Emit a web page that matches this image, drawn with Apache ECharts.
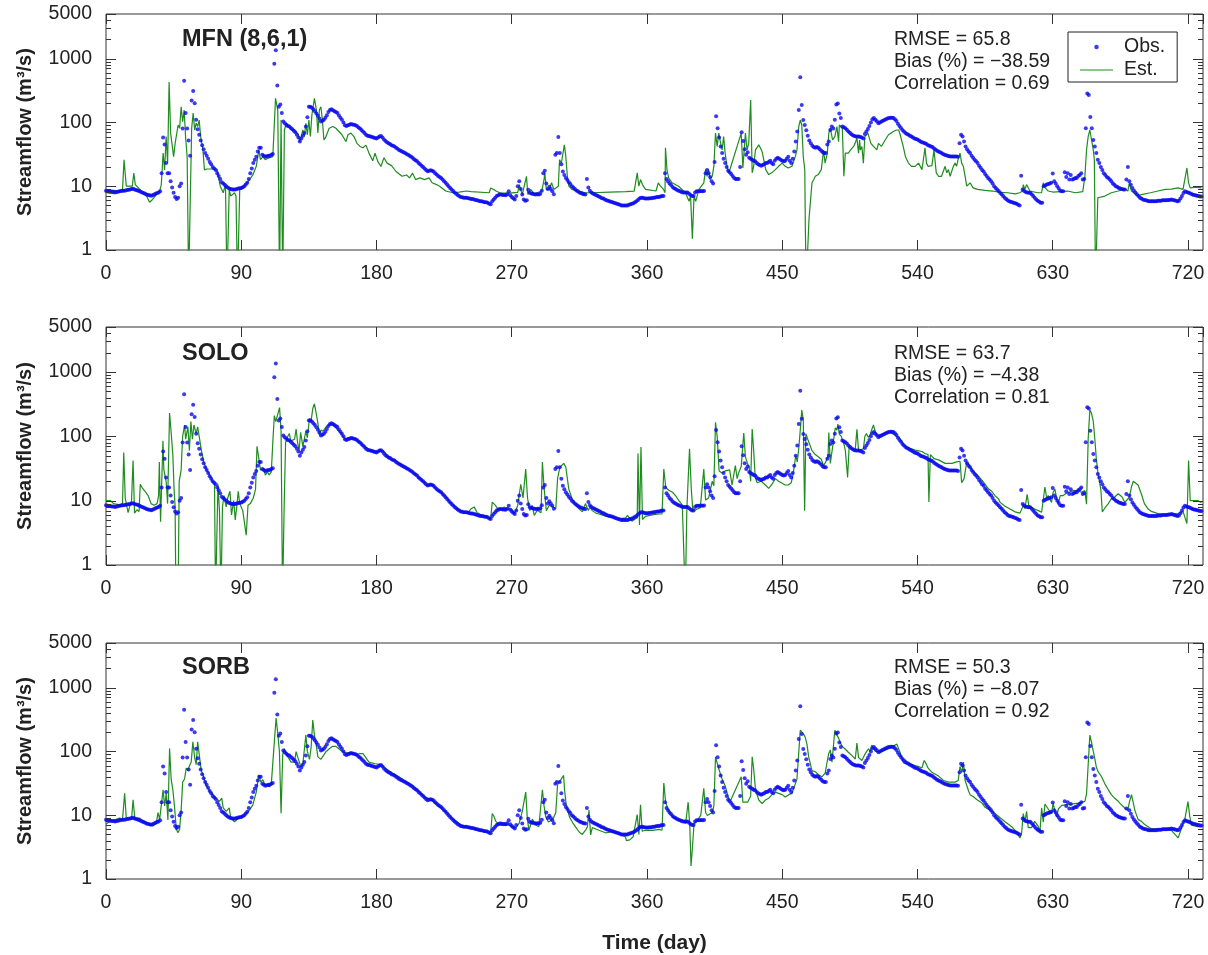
<!DOCTYPE html>
<html><head><meta charset="utf-8">
<script src="https://cdn.jsdelivr.net/npm/echarts@6/dist/echarts.min.js"></script>
<style>html,body{margin:0;padding:0;background:#fff}#c{width:1208px;height:955px}</style>
</head><body><div id="c"></div>
<script>
// Observed daily streamflow (m3/s), day 0..729, 10 values per row
const obs = [
8.5,8.3,8.2,8.2,8.1,8.1,8.0,8.1,8.2,8.3,
8.4,8.5,8.5,8.6,8.7,8.8,8.9,9.0,9.1,8.9,
8.7,8.6,8.4,8.2,8.0,7.8,7.6,7.4,7.3,7.2,
7.1,7.2,7.4,7.6,7.8,8.0,8.3,16,58,45,
23,16,16,12,9.5,7.9,6.8,6.3,6.6,10,
11,80,450,140,80,52,30,220,310,200,
110,78,64,52,44,38,33,30,27,24,
22,20,19,18,16,14.5,13,11.5,11,10.5,
10,9.5,9.2,9,8.9,8.9,8.9,9.0,9.2,9.3,
9.4,9.6,10,10.6,11.3,13,16,19,23,26,
29,35,40,40,31,30,29,29.5,30,30,
31,32,830,1350,380,176,190,140,103,97,
92,88,86,82,78,74,70,64,58,50,
56,62,68,86,120,176,176,170,160,150,
138,127,115,103,106,110,118,130,145,156,
160,155,150,145,140,128,118,110,100,90,
88,90,92,94,93,92,90,88,83,80,
76,72,68,64,62,61,60,59,58,57,
56,58,60,61,58,54,51,49,47,46,
44,43,42,40,38.5,37,36,35,34,33,
32,31,30,29,28,26.5,25.5,24.5,23,22,
21,20,19,18,17.2,17.5,17.8,17.5,17,16,
15.2,14.5,14,13.5,12.7,12,11.3,10.6,10,9.4,
8.9,8.4,8,7.6,7.3,7,6.8,6.7,6.6,6.6,
6.6,6.5,6.4,6.3,6.3,6.2,6.1,6.0,5.9,5.8,
5.8,5.7,5.6,5.6,5.5,5.3,5.2,5.8,6.2,6.6,
7.0,7.2,7.4,7.4,7.3,7.3,7.2,7.5,8.3,7.2,
6.8,6.5,6.2,7.0,10,12,9,7.4,6.2,5.9,
6.0,8.8,7.9,7.7,7.6,7.5,7.4,7.5,7.4,7.6,
8.5,16,17.5,11,9,9.8,9,8.3,7.5,31,
33,59,33,22,17,15,13.5,12.5,11.5,10.8,
10,9.5,9,8.6,8.3,8,7.8,7.6,7.5,7.4,
13,9.5,8.5,8,7.7,7.5,7.3,7.1,6.9,6.7,
6.5,6.4,6.2,6.0,5.9,5.8,5.7,5.6,5.5,5.4,
5.3,5.2,5.1,5.0,5.0,5.0,5.0,5.0,5.1,5.2,
5.3,5.4,5.6,5.8,6.1,6.4,6.6,6.6,6.5,6.4,
6.4,6.4,6.5,6.5,6.6,6.6,6.7,6.8,6.8,6.9,
7.0,7.0,16,13,12,11,10.4,9.7,9.3,9,
8.7,8.5,8.3,8.1,8.0,8.0,8.0,8.0,7.6,7.3,
7.0,7.0,8.0,8.3,8.3,8.3,8.4,8.3,8.4,16,
18,16,14,12,11,24,125,81,58,42,
33,27,23,20,17.5,16.5,15.5,14.5,13.5,13,
13,13,20,70,51,38,31,34,28,27,
26,25,24.5,23,22,21.5,21,21.5,22,23,
23,24,25,23,22,25,27,28,27,26,
25,24.5,25,27,29,25,23,27,35,50,
72,156,510,187,109,91,75,62,52,47,
43,41,40,41,40,38,36,34,33,33,
45,50,76,86,80,110,190,198,138,117,
86,84,81,77,72,69,65,63,61,60,
60,60,59,58,56,66,72,79,88,100,
112,117,110,104,97,100,103,106,109,112,
115,117,118,118,117,112,105,95,88,82,
76,72,68,66,64,62,60,58,56,55,
54,52,50,49,48,47,46,44,43,42,
41,39,37.5,36,35,34,33,32,31,30.5,
30,29.5,29.3,29.3,29.3,29.3,29.3,29,47,64,
60,50,42,38,35,33,30,28,26,24.5,
23,21,19.5,18,17,15.5,14.5,13.5,12.7,12,
11,10,9.4,8.9,8.4,7.9,7.5,7.0,6.6,6.3,
6.0,5.8,5.7,5.6,5.5,5.4,5.3,5.1,5.0,14.6,
8.9,8.4,8.1,8,7.9,7.9,7.5,7,6.6,6.2,
5.9,5.7,5.5,5.5,10,10.3,10.6,10.8,11,11.3,
15.8,12,11,10,9.2,8.5,8.3,8.3,16.5,14,
16,12.7,15,12.7,13,13.5,13.5,14.5,15,16,
12.7,13,81,283,270,122,81,53,42,33,
26,23,20,18,16,15,14,13.5,12.7,12,
11,10.5,10,9.7,9.4,9.2,9,8.9,8.9,12.7,
20,12,10.5,9.4,8.6,8,7.5,7,6.6,6.4,
6.2,6.1,6.0,5.9,5.8,5.8,5.8,5.8,5.8,5.8,
5.9,5.9,5.9,6.0,6.0,6.0,6.0,6.1,6.1,6.2,
6.1,6.0,5.9,5.8,5.9,6.4,7.0,7.8,8.3,8.1,
8.0,7.8,7.6,7.4,7.3,7.2,7.1,7.0,6.9,6.9
];

// Estimated streamflow, [day, value] vertices
const estMFN = [
[0,8.9],[9,8.4],[11,8.9],[12,26],[13.5,10],[17.5,10],[18.5,16],[19.5,10.6],[23.5,8.4],[27,7],[29,5.6],[31,6.2],[33.5,7.4],[35.7,8.4],[36.8,10.6],[38,33],[39,18],[40,60],[41,23],[42,430],[43,68],[45,29],[46,47],[48,91],[49,81],[50,176],[51,103],[52,156],[53,57],[54,29],[55,0.3],[56,0.3],[57,81],[58,140],[59,76],[60,97],[61,86],[62,109],[63,60],[64.5,37],[65.5,18],[67,18.6],[71,18.6],[74,18],[76,10],[78,7.9],[79.5,10.6],[80.5,0.3],[82,8.9],[83,7],[85.5,7.9],[86.5,7],[87.5,0.3],[89,8.9],[91,9.4],[93,10.6],[95.5,12.7],[97.7,15],[100,20.5],[101.7,37],[102.8,26],[104.4,29],[106,26],[108,27.6],[111,29],[112.8,238],[114.3,156],[115.5,0.3],[116.5,109],[117.6,0.3],[118.7,76],[120,97],[121,86],[123,81],[125,76],[128,64],[129,50],[130,53],[131,76],[132,60],[133,97],[134,64],[135,109],[136,60],[137,130],[138.7,238],[140,156],[141,68],[142,156],[143,176],[144,109],[145,53],[146,57],[148.5,81],[151,86],[153,81],[155,72],[157,64],[159.7,50],[161,64],[163,68],[165,60],[167,47],[169,42],[171,40],[173,44],[175,33],[177.5,25],[179,33],[181,24],[183,20.5],[185,28],[187,23],[190,21],[193,17],[197,14.3],[200,15],[202,13.5],[204,16],[206,12.7],[209,13.5],[212,12.7],[215,13.5],[217,11.3],[220,10.6],[222,10],[226,8.4],[231,7.9],[235,8.1],[240,8.4],
[243,8.2],[255,7.9],[256,9.4],[257,10],[258,8.9],[259.5,8.4],[262,7.9],[268,7.8],[274,8.0],[275,10.6],[276,10],[277,7.4],[279.8,14.3],[280.7,7.4],[282.6,8.9],[285,7.6],[290,8.4],[291.5,12.7],[292,16.2],[293,8.9],[295,8.9],[296.5,11.3],[298,8.9],[301,10],[301.8,26],[303,23],[305,44.5],[306,29],[307,14.3],[308,10],[310,8.9],[314.7,8.4],[319,7.9],[323.6,7.9],[335,8.1],[346,8.2],[351.5,8.4],[352.7,8.9],[353.5,16.2],[354.6,10],[355.7,12.7],[357,10.6],[359,8.9],[366,8.4],[367.5,11.3],[369,10],[371,8.9],[372,7.9],[372.3,40],[373.3,18.2],[374.4,13.5],[376.7,11.3],[381,10],[385.6,7.9],[388,5.8],[389,7],[390.2,1.5],[391.3,7],[392.4,5.8],[394.6,8.9],[397.8,11.3],[399,18.2],[400,14.3],[401,18.2],[402,12.7],[403.4,14.3],[404.5,20.5],[405.6,68],[406.7,42],[407.8,68],[409,47],[410,37],[411,60],[412,33],[413.3,20.5],[414.4,16.2],[415.5,19.3],[416.6,20.5],[422.7,68],[423.8,19.3],[425.5,68],[426.6,37],[427.7,47],[429,224],[430,16.2],[431,20.5],[432.2,37],[434.4,44.5],[436.6,35],[437.7,33],[439,18.2],[441,15.2],[443,16.2],[445.4,18.2],[447.6,20.5],[450,23],[452,20.5],[454,19.3],[456.5,20.5],[458.7,29.3],[459.8,37],[461,86],[462,109],[463,91],[464,29],[465,18.2],[465.4,2],[466,0.3],[467,0.3],[467.8,3],[469.8,11.3],[471,12.7],[472,14.3],[474,15.2],[476,18.2],[477.5,37],[478.5,23],[480,33],[481,68],[482,81],[483.5,53],[485,60],[486.4,86],[487.5,50],[488,91],[490,81],[491,14.3],[492,33],[494,33],[495.5,37],[497.5,42],[498.5,47],[499.7,57],[500.8,33],[501.5,53],[502,37],[503,42],[504,23],[505,60],[506,64],[507,68],[508,72],[509,47],[510.7,42],[512,44.5],[513,37],[514,47],[516,42],[518.5,53],[520.7,64],[524,72],[526,76],[527.5,76],[528.5,64],[530.5,42],[532,29],[534,23],[536,20.5],[538.5,20.5],[540.7,23],[543,18.2],[545,40],[546,23],[547,20.5],[549.6,21],[551,37],[552.5,16.2],[554,14.3],[556,14.3],[558.4,20.5],[559.5,16.2],[560.6,18.2],[561.7,14.3],[563.9,20.5],[565,23],[566,20.5],[567,26],[568.3,33],[569.4,23],[570.5,20.5],[571.7,14.3],[572.8,10],[575,11.3],[577,9.4],[580,8.9],[585,8.6],[590,8.4],[595,8.0],[600,7.9],[605,7.6],[608,7.9],[610,8.4],[610.4,10.6],[611.5,8.9],[612.6,10.6],[614.8,8.4],[616,7.9],[620,7.9],[622.6,7.9],[623.7,11.3],[624.8,9.6],[627,8.4],[630,8.1],[640,8.4],[645,7.9],[650,8.2],[651.4,14.3],[652.5,37],[653.6,60],[654.7,76],[655.8,72],[657,37],[657.7,26],[658.5,0.3],[659.5,0.3],[660,6.6],[664.7,7],[669,7.9],[673.6,8.4],[678,9],[680,8.4],[681,11.3],[682.4,8.4],[686.8,7],[689,7.4],[695,7.9],[700,8.4],[705,8.9],[709,9],[713.4,9.4],[716.7,8.9],[719.3,19.3],[720.4,11.3],[721.5,9.4],[725,9.7],[729,9.4]
];
const estSOLO = [
[0,10],[3,10],[5,9],[9,8.6],[11,9],[11.8,56],[12.8,11],[14.7,6.5],[16,8.5],[17,10],[18,42],[19,6.4],[20.5,7.2],[22,6.8],[22.8,18],[24,16],[26,14],[28,12],[30,9],[32,8.5],[34,9],[35,12],[35.5,40],[36.3,4.7],[37.9,85],[38.5,30],[40,20],[41,9],[42.3,230],[43.5,105],[44.5,50],[45.3,15],[46,8],[46.5,0.3],[48,0.3],[48.7,20],[50,30],[51,100],[52.3,150],[53,90],[54.5,140],[55.5,60],[56.5,170],[57.5,90],[58.5,150],[60,110],[61,140],[62,100],[63.5,60],[65,40],[67,30],[69,25],[71,20],[72.2,18],[72.9,0.3],[73.5,0.3],[74.5,18],[75.5,7],[76.5,0.3],[77.5,8],[78.5,12],[80,8],[81,11],[82.5,14],[83.5,6],[85,10],[86,5],[87,8],[88,14],[89,9],[91,7],[93.3,2.9],[94.5,8.5],[96,9],[98,11],[99.5,15],[100.5,70],[101.7,75],[102.8,30],[104,28],[105,32],[106,25],[107.5,28],[108.5,25],[110,28],[111,80],[112,210],[113,170],[114.5,230],[115.5,280],[116.5,120],[117.5,0.3],[118.5,7],[119.5,80],[121,100],[122,110],[123,85],[124,80],[125.5,90],[126.5,130],[127.5,80],[128.5,60],[129.5,115],[131,70],[132,75],[133,120],[134,95],[135.4,190],[136.5,175],[137.6,270],[138.7,320],[140,220],[141,160],[142,105],[143,125],[144.5,120],[146.4,140],[148.5,150],
[151,150],[153,135],[155,120],[157,105],[159,90],[161,95],[163,92],[166,92],[169,80],[172,70],[175,63],[178,60],[181,58],[183,61],[185,58],[188,48],[192,42],[195,38],[200,32],[204,28],[207,24],[211,20],[214,17.5],[217,17.5],[220,15],[223,13.5],[226,11.5],[229,9.5],[232,8.2],[235,7.2],[238,6.7],[241,6.5],
[243,7.5],[245,8],[247,6.5],[250,6],[253,5.7],[256,5.3],[257,9.5],[259,8.5],[261,7.3],[263,7.3],[265,8],[267,7.4],[268,6.9],[270,7.4],[272,6.2],[274,8.5],[276,18],[277.5,11],[279.3,31],[280.5,11],[282,7],[283.5,8.5],[285,5.9],[287,7.1],[289.5,6.5],[290.4,40],[291.5,16],[293,7],[295,8.5],[297.5,8],[299.3,7.4],[300.5,22],[302,33],[303,35],[304.6,38],[306,33],[307,22],[308,15],[310.3,10.5],[312.5,8.5],[315,7.4],[317,6.7],[318,6.7],[319,9],[320,8],[321,7],[322,8],[323.6,7],[326,6.4],[328,6.2],[332,5.8],[337,5.5],[341,5.2],[345.8,5.4],[347,5.9],[348,5.6],[350,4.8],[352,5.2],[353.5,5.4],[354,54],[355,4.2],[356,68],[357,5.1],[359,5.7],[363.6,6.0],[368,6.2],[370,6.2],[371.2,31],[372.5,16],[374.5,14.5],[377,13.5],[379,12],[381.5,9.8],[383.5,8.5],[385.5,0.3],[386.5,7],[388.3,64],[389.5,15],[390.5,7],[393,7.3],[395.5,7.8],[397.8,31],[399,10.2],[401,11],[403.4,20],[404.5,17],[405.6,165],[406.7,100],[408,29],[410,27],[412,29],[413,27],[415,30],[416.6,17.5],[418.8,35],[420,22],[421,27],[422.7,34],[424.4,112],[425.5,48],[427,37],[428,33],[429,20],[430,130],[431,60],[432,23],[433.3,19],[436,20],[438.8,17.5],[441,15.5],[443.2,18],[445.4,22],[447.6,20],[452,17.5],[454,17.5],[456,19],[457,24],[458,34],[459,50],[460,40],[461,65],[462,125],[463,255],[464,180],[464.9,7],[465.7,110],[467,90],[469.8,60],[472,52],[474,48],[476,44],
[477.5,35],[479,40],[480.5,50],[481,115],[482,38],[483,36],[484,82],[485.3,135],[486.4,125],[487,155],[488,108],[489.3,100],[490.2,86],[491.3,72],[492,60],[493.5,23],[494.5,68],[496.4,64],[498.6,62],[499.7,128],[500.8,60],[502,63],[504,64],[505,100],[506,110],[507.4,96],[508.5,105],[509.6,128],[510.7,150],[512,115],[513,103],[514,107],[516.3,107],[518.5,112],[520.7,118],[523,112],[524,107],[526.3,100],[528,95],[530.7,75],[533,67],[536,64],[538.5,61],[543,58],[545,54],[547,52],[547.6,9.5],[548.6,52],[551,45],[554,43],[558.4,38],[563,38],[566,40],[567,38],[568.3,41],[569.4,19],[571,22],[572.8,40],[574,37],[575,33],[578.3,27],[580.5,24],[582.7,21],[585,18],[587,15.5],[589.4,14],[591.6,12],[594,10.6],[595,9.4],[598.3,8.2],[601.6,7.4],[605,6.7],[608.2,6.4],[610.4,8.4],[611.5,7.6],[613,12.5],[614,8.5],[616,7.8],[618,7.4],[620.4,7.0],[622.6,6.6],[624.8,16.3],[626,11],[627,12],[629.2,9.4],[630.3,13.5],[631.4,15.2],[632.6,11],[633.7,9],[635,12],[637,12],[639,13],[643.6,14.3],[647,14.3],[649,13.5],[651.4,14.3],[652.5,8.8],[653.6,92],[654.7,255],[655.8,230],[657,170],[658,91],[659,45],[660,28],[661,27],[662,15],[663,6.7],[664.7,7.7],[667,9],[669,10.7],[671.4,11.5],[673.6,12.8],[676,11.5],[678,9.4],[679,9],[681,11.3],[682.4,16.3],[683.6,20],[684.7,19.3],[686.8,17.5],[689,12.7],[691,9],[693.5,7.4],[695.7,6.8],[700,6.3],[704.6,6.1],[709,6.1],[713.4,6.3],[716.7,6.8],[717.8,7],[719.3,4.4],[720.4,42],[721.5,10],[722.6,10],[726.7,10],[729,9.3]
];
const estSORB = [
[0,7.2],[2.5,8],[6,8.5],[9,9],[11,8.6],[12.4,22],[13.5,9],[17,8.6],[18,17.4],[19.2,9],[22.4,9],[24.6,8.2],[28,7.3],[31.3,6.8],[33.5,7.5],[34.6,11],[35.7,8.6],[37,8.6],[38,25],[39,14],[40.1,22],[41.2,8.4],[42.3,111],[43.4,36],[44.5,25],[45.6,13.5],[46.8,6],[47.9,5.3],[49,6],[50.1,13],[51,33],[52.3,37],[53.4,55],[54.5,50],[55.6,60],[56.7,68],[57.8,141],[59,80],[60,62],[61,141],[62.3,80],[63.4,50],[64.5,43],[65.6,35],[66.7,29],[68,26],[69,24],[71,21],[73,18.5],[75.5,16.5],[77,18.5],[78,13],[80,11.5],[82,13],[83,9.2],[85.5,7.9],[86.6,7.5],[88.8,9.2],[91,9.7],[93.3,10.5],[95.5,12],[97.7,14.5],[100,23],[101.7,43],[103,33],[104.4,36],[105.5,31],[106.6,30],[108.8,28],[110,31],[111,33],[112.1,150],[113.2,333],[114.3,190],[115.4,100],[116.5,10.7],[117.6,90],[118.7,110],[119.8,95],[121,82],[122,82],[123.2,68],[125.4,68],[126.5,99],[127.5,82],[128.7,68],[129.8,57],[131,64],[132,64],[133,180],[134,100],[135.4,75],[136.5,115],[137.6,310],[138.7,180],[140,120],[141,82],[143,75],[144.2,79],[146.4,99],[148.6,110],[150.8,120],[153,120],[155.3,108],[157.5,99],[159.7,95],[162,95],[164.2,92],[166.4,88],[168.6,92],[171,92],[175,68],[179,64],[183,62],[187,52],[191,45],[195,40],[200,33],[204,29],[208,24],[212,19],[216,18],[219,15.5],[223,13],[227,10.8],[231,8.7],[235,7.4],[238,6.6],[241,6.4],
[243,6.2],[248,5.8],[252,5.5],[256,5.3],[257,10.6],[258,9.8],[259.4,8],[262,7],[266,7],[268,7],[270.5,6.6],[272.7,6.3],[275,7.5],[277,11.5],[279.3,23],[280.4,8.6],[281.5,5.8],[283.7,8.7],[286,7],[288,6.6],[290.4,25],[291.5,14],[292.6,9.5],[294.4,7.8],[297.5,8.7],[299.3,11],[300.5,30],[301.5,31],[304.5,42],[305.2,24],[306.2,15],[308.4,9.4],[310.6,7.6],[312.8,6.4],[315,5.4],[317,5.0],[319.2,5.9],[320.3,6.5],[321.4,12],[322.5,4.9],[323.6,6.4],[328,5.8],[332.4,5.3],[337,5.5],[341.3,5.3],[345.8,4.5],[346.3,4.0],[348.5,4.1],[350.8,4.6],[353.5,10.2],[354.6,5.0],[355.7,14.5],[356.8,5.6],[359,5.8],[363.6,5.8],[368,6.0],[370,5.8],[371.2,32],[372.4,16],[374.6,11.3],[376.8,9.7],[379,8.7],[381.4,8.4],[383.5,8.4],[385.7,7.4],[387.4,16],[388.5,6.7],[389.3,1.6],[390.2,3],[391.3,7.3],[393.6,8.3],[395.8,10],[397.8,26.4],[399,11],[400.2,9.9],[403.4,11],[404.5,14],[405.6,82],[406.7,77],[407.8,53],[410,37],[412,29],[414.3,18.5],[415.5,16.7],[416.6,16.5],[422.7,40],[423.8,16],[425,15],[427,16],[429,20],[430,82],[431,53],[432.2,25],[434.4,17.3],[436.6,15.2],[438.8,17.3],[441,18.5],[443.2,21],[445.4,23],[447.6,22],[450,21],[452,19.3],[454.3,21],[456.5,22],[458.7,31],[459.8,37],[462,215],[463,205],[464.3,185],[465.4,165],[466.5,128],[467.6,82],[469.8,50],[472,48],
[474.2,43],[476.4,40],[478.6,46],[479.8,67],[480.9,92],[482,105],[483.1,68],[485,215],[486.4,180],[487.6,160],[488.7,135],[489.9,120],[492,108],[494,97],[496.4,86],[498.6,76],[499.7,135],[500.8,80],[503,72],[505,90],[506.2,100],[507.4,110],[508.5,100],[509.6,125],[510.7,115],[511.9,100],[514,98],[516.3,100],[518.5,105],[520.7,110],[523,118],[526.3,130],[528.5,95],[530.7,66],[532.9,64],[536.3,62],[540.7,58],[543,55],[544.4,72],[545.5,66],[547,55],[549.6,47],[554,41],[557.3,35],[560.6,33],[565,33],[567.1,35],[568.3,58],[569.4,47],[570.6,68],[571.7,35],[572.8,33],[574,24],[575,21],[577.2,19.5],[579.4,17.6],[582.7,15.7],[585,13.3],[587,12.5],[589.4,11.5],[591.6,10.6],[595,9.1],[598.3,7.9],[602.7,6.6],[606,5.4],[608.2,4.4],[609.3,5.3],[610.4,10.6],[611.5,7.8],[612.6,11.5],[613.7,6.4],[616,6.4],[618,8],[620.4,6.7],[621.5,5.4],[622.6,13],[623.7,7.8],[624.8,15],[627,12.5],[629.2,10.6],[630.3,15.5],[631.4,11.5],[632.6,9.4],[633.7,12.5],[636,14.3],[637,14.3],[641.4,14.8],[647,15.5],[651.4,16.5],[652.5,21.5],[654.7,180],[655.8,140],[657,100],[658,77],[659,57],[660,49],[662.5,40],[664.7,31],[667,25],[669,21],[671.3,18.4],[673.6,16.5],[676,14.3],[678,13],[680,12],[681,16],[682.4,21],[683.5,16],[684.7,11.8],[686.8,8.6],[689,8],[691,7.2],[695.7,6.1],[700,6.1],[704.6,6.1],[709,5.8],[713.4,4.4],[715.6,6.1],[716.7,7.6],[717.8,8.4],[720,16.3],[721.2,9.6],[722.3,7],[726.7,6.6],[729,6.6]
];

const xTickStep = 90;
const dayMax = 730;
const yMin = 1, yMax = 5000;
const majorTicks = [1, 10, 100, 1000, 5000];
const minorTicks = [2,3,4,5,6,7,8,9,20,30,40,50,60,70,80,90,200,300,400,500,600,700,800,900,2000,3000,4000];
const panelNames = ['MFN (8,6,1)', 'SOLO', 'SORB'];
const statsText = [
  ['RMSE = 65.8', 'Bias (%) = \u221238.59', 'Correlation = 0.69'],
  ['RMSE = 63.7', 'Bias (%) = \u22124.38', 'Correlation = 0.81'],
  ['RMSE = 50.3', 'Bias (%) = \u22128.07', 'Correlation = 0.92']
];
const estAll = [estMFN, estSOLO, estSORB];

const FONT = "'Liberation Sans', Arial, Helvetica, sans-serif";
const INK = '#222';
const AX = '#333';
const OBS_BLUE = '#0a0af0';
const EST_GREEN = '#1e8c1e';
const gridTops = [14, 327, 643];
const gridHeights = [236, 238, 237];
const titleY = [40, 354, 668];
const statsY = [[40, 62, 84], [354, 376, 398], [668, 690, 712]];

const chart = echarts.init(document.getElementById('c'), null, {renderer: 'canvas'});
const obsData = obs.map((v, i) => [i, v]);

const option = {
  animation: false,
  backgroundColor: '#fff',
  textStyle: {fontFamily: FONT},
  grid: [], xAxis: [], yAxis: [], series: [], graphic: [],
  legend: {
    data: [{name: 'Obs.', icon: 'circle'}, {name: 'Est.', icon: 'path://M0,0H60V1.4H0Z'}],
    orient: 'vertical', left: 1068, top: 32,
    padding: [5, 12, 2, 12], itemGap: 3, itemWidth: 33, itemHeight: 4.5,
    borderColor: INK, borderWidth: 1, backgroundColor: '#fff',
    selectedMode: false,
    textStyle: {fontSize: 19.5, lineHeight: 20, color: INK, fontFamily: FONT, padding: [0, 0, 0, 6]}
  }
};

function tickRender(len) {
  return function (params, api) {
    const v = api.value(1);
    const pL = api.coord([0, v]);
    const pR = api.coord([dayMax, v]);
    const y = Math.round(pL[1]) + 0.5;
    return {type: 'group', children: [
      {type: 'line', shape: {x1: pL[0], y1: y, x2: pL[0] + len, y2: y}, style: {stroke: AX, lineWidth: 1}},
      {type: 'line', shape: {x1: pR[0], y1: y, x2: pR[0] - len, y2: y}, style: {stroke: AX, lineWidth: 1}}
    ]};
  };
}

for (let p = 0; p < 3; p++) {
  option.grid.push({left: 106, right: 5, top: gridTops[p], height: gridHeights[p], show: true,
    borderColor: AX, borderWidth: 1, backgroundColor: 'transparent'});
  const xBase = {type: 'value', gridIndex: p, min: 0, max: dayMax, interval: xTickStep,
    splitLine: {show: false}, axisLine: {show: false},
    axisTick: {inside: true, length: 10, lineStyle: {color: AX, width: 1}}};
  option.xAxis.push(Object.assign({}, xBase, {position: 'bottom',
    axisLabel: {fontSize: 19.5, color: INK, margin: 14, fontFamily: FONT, showMaxLabel: false},
    name: p === 2 ? 'Time (day)' : '', nameLocation: 'middle', nameGap: 54,
    nameTextStyle: {fontSize: 21, fontWeight: 'bold', color: INK, fontFamily: FONT}}));
  option.xAxis.push(Object.assign({}, xBase, {position: 'top', axisLabel: {show: false}}));
  const yBase = {type: 'log', logBase: 10, gridIndex: p, min: yMin, max: yMax,
    splitLine: {show: false}, axisLine: {show: false}, minorTick: {show: false},
    axisTick: {show: false}};
  option.yAxis.push(Object.assign({}, yBase, {position: 'left',
    axisLabel: {fontSize: 19.5, color: INK, margin: 14, fontFamily: FONT, formatter: v => String(Math.round(v))},
    name: 'Streamflow (m\u00b3/s)', nameLocation: 'middle', nameGap: 71, nameRotate: 90,
    nameTextStyle: {fontSize: 20, fontWeight: 'bold', color: INK, fontFamily: FONT}}));
  option.yAxis.push(Object.assign({}, yBase, {position: 'right', axisLabel: {show: false}}));

  option.series.push({name: 'Est.', type: 'line', xAxisIndex: 2 * p, yAxisIndex: 2 * p,
    data: estAll[p], showSymbol: false, symbol: 'none', clip: true, z: 2,
    lineStyle: {color: EST_GREEN, width: 1.2}, itemStyle: {color: EST_GREEN}});
  option.series.push({name: 'Obs.', type: 'scatter', xAxisIndex: 2 * p, yAxisIndex: 2 * p,
    data: obsData, symbol: 'circle', symbolSize: 4, clip: true, z: 3,
    itemStyle: {color: OBS_BLUE}});
  option.series.push({name: 'minor' + p, type: 'custom', xAxisIndex: 2 * p, yAxisIndex: 2 * p,
    data: minorTicks.map(v => [0, v]), encode: {x: 0, y: 1}, renderItem: tickRender(5),
    silent: true, clip: false, z: 4});
  option.series.push({name: 'major' + p, type: 'custom', xAxisIndex: 2 * p, yAxisIndex: 2 * p,
    data: majorTicks.map(v => [0, v]), encode: {x: 0, y: 1}, renderItem: tickRender(10),
    silent: true, clip: false, z: 4});

  option.graphic.push({type: 'text', x: 182, y: titleY[p], silent: true,
    style: {text: panelNames[p], fontSize: 23.5, fontWeight: 'bold', fill: INK, fontFamily: FONT,
      verticalAlign: 'middle', textVerticalAlign: 'middle'}});
  for (let k = 0; k < 3; k++) {
    option.graphic.push({type: 'text', x: 894, y: statsY[p][k], silent: true,
      style: {text: statsText[p][k], fontSize: 19.5, fill: INK, fontFamily: FONT,
        verticalAlign: 'middle', textVerticalAlign: 'middle'}});
  }
}

chart.setOption(option);
</script>
</body></html>
